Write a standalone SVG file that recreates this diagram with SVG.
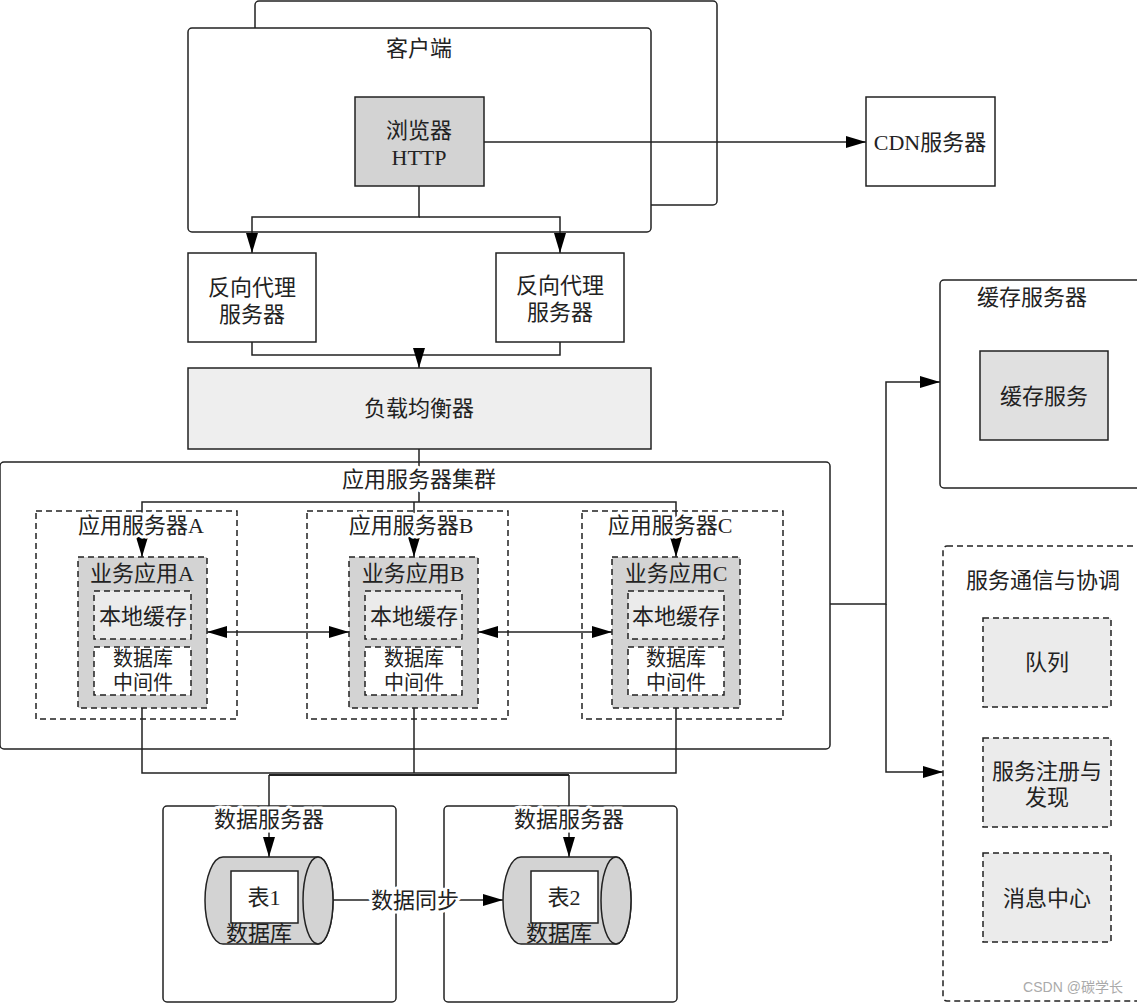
<svg xmlns="http://www.w3.org/2000/svg" width="1137" height="1004" viewBox="0 0 1137 1004">
<defs>
<marker id="ah" markerWidth="20" markerHeight="12" refX="20" refY="6" orient="auto" markerUnits="userSpaceOnUse"><path d="M0,0 L20,6 L0,12 Z" fill="#000"/></marker>
<marker id="as" markerWidth="20" markerHeight="12" refX="0" refY="6" orient="auto" markerUnits="userSpaceOnUse"><path d="M20,0 L0,6 L20,12 Z" fill="#000"/></marker>
<style>
text{font-family:"Liberation Serif","Noto Sans CJK SC",serif;font-size:22px;fill:#222;text-anchor:middle;dominant-baseline:central}
.sm{font-size:20px}
.halo{stroke:#fff;stroke-width:6;paint-order:stroke;stroke-linejoin:round}
.box{fill:#fff;stroke:#222;stroke-width:1.5}
.frame{fill:none;stroke:#222;stroke-width:1.5}
.gray{fill:#d3d3d3;stroke:#222;stroke-width:1.5}
.light{fill:#eeeeee;stroke:#222;stroke-width:1.5}
.dash{fill:#fff;stroke:#222;stroke-width:1.5;stroke-dasharray:6,4}
.dframe{fill:none;stroke:#222;stroke-width:1.5;stroke-dasharray:6,4}
.dgray{fill:#d3d3d3;stroke:#222;stroke-width:1.5;stroke-dasharray:6,4}
.dlight{fill:#ebebeb;stroke:#222;stroke-width:1.5;stroke-dasharray:6,4}
.ln{fill:none;stroke:#222;stroke-width:1.5}
</style>
</defs>
<rect width="1137" height="1004" fill="#fff"/>

<g id="client">
<rect class="box" x="255" y="1" width="462" height="204" rx="4"/>
<rect class="box" x="188" y="28" width="463" height="204" rx="4"/>
<text x="419" y="48">客户端</text>
</g>

<g id="connectors">
<path class="ln" d="M484,142 H866" marker-end="url(#ah)"/>
<path class="ln" d="M419,186 V217 H252 V253" marker-end="url(#ah)"/>
<path class="ln" d="M419,217 H560 V253" marker-end="url(#ah)"/>
<path class="ln" d="M252,342 V355 H560 V342"/>
<path class="ln" d="M419,355 V368" marker-end="url(#ah)"/>
<path class="ln" d="M419,449 V502"/>
<path class="ln" d="M419,502 H142 V557" marker-end="url(#ah)"/>
<path class="ln" d="M414,502 V557" marker-end="url(#ah)"/>
<path class="ln" d="M419,502 H676 V557" marker-end="url(#ah)"/>
<path class="ln" d="M207,632 H349" marker-start="url(#as)" marker-end="url(#ah)"/>
<path class="ln" d="M478,632 H612" marker-start="url(#as)" marker-end="url(#ah)"/>
<path class="ln" d="M830,604 H886 V382 H940" marker-end="url(#ah)"/>
<path class="ln" d="M886,604 V772 H943" marker-end="url(#ah)"/>
<path class="ln" d="M142,695 V773 H676 V695"/>
<path class="ln" d="M414,695 V773"/>
<path class="ln" d="M269,775 H569" style="stroke-width:2"/>
<path class="ln" d="M269,775 V857" marker-end="url(#ah)"/>
<path class="ln" d="M569,775 V857" marker-end="url(#ah)"/>
<path class="ln" d="M333,900 H503" marker-end="url(#ah)"/>
</g>

<g id="browser">
<rect class="gray" x="355" y="97" width="129" height="89"/>
<text x="419" y="130">浏览器</text>
<text x="419" y="157">HTTP</text>
</g>
<g id="cdn">
<rect class="box" x="866" y="97" width="129" height="89"/>
<text x="930" y="142">CDN服务器</text>
</g>
<g id="proxy1">
<rect class="box" x="188" y="253" width="128" height="89"/>
<text x="252" y="287">反向代理</text>
<text x="252" y="314">服务器</text>
</g>
<g id="proxy2">
<rect class="box" x="496" y="253" width="128" height="89"/>
<text x="560" y="285">反向代理</text>
<text x="560" y="312">服务器</text>
</g>
<g id="lb">
<rect class="light" x="188" y="368" width="463" height="81"/>
<text x="419" y="408">负载均衡器</text>
</g>
<g id="cluster">
<rect class="frame" x="0" y="462" width="830" height="287" rx="4"/>
<text class="halo" x="419" y="479">应用服务器集群</text>
</g>
<g id="serverA">
<rect class="dframe" x="36" y="511" width="201" height="208"/>
<text class="halo" x="141" y="525">应用服务器A</text>
<rect class="dgray" x="78" y="557" width="129" height="151"/>
<text x="142" y="573">业务应用A</text>
<rect class="dlight" x="94" y="591" width="97" height="48"/>
<text x="143" y="616">本地缓存</text>
<rect class="dash" x="94" y="647" width="97" height="48"/>
<text class="sm" x="143" y="659">数据库</text>
<text class="sm" x="143" y="683">中间件</text>
</g>
<g id="serverB">
<rect class="dframe" x="307" y="511" width="201" height="208"/>
<text class="halo" x="411" y="525">应用服务器B</text>
<rect class="dgray" x="349" y="557" width="129" height="151"/>
<text x="413" y="573">业务应用B</text>
<rect class="dlight" x="365" y="591" width="97" height="48"/>
<text x="414" y="616">本地缓存</text>
<rect class="dash" x="365" y="647" width="97" height="48"/>
<text class="sm" x="414" y="659">数据库</text>
<text class="sm" x="414" y="683">中间件</text>
</g>
<g id="serverC">
<rect class="dframe" x="582" y="511" width="201" height="208"/>
<text class="halo" x="670" y="525">应用服务器C</text>
<rect class="dgray" x="612" y="557" width="128" height="151"/>
<text x="676" y="573">业务应用C</text>
<rect class="dlight" x="628" y="591" width="96" height="48"/>
<text x="676" y="616">本地缓存</text>
<rect class="dash" x="628" y="647" width="96" height="48"/>
<text class="sm" x="676" y="659">数据库</text>
<text class="sm" x="676" y="683">中间件</text>
</g>
<g id="cache">
<rect class="frame" x="940" y="280" width="210" height="208" rx="4"/>
<text x="1032" y="297">缓存服务器</text>
<rect class="gray" x="980" y="351" width="128" height="89" style="fill:#e0e0e0"/>
<text x="1044" y="396">缓存服务</text>
</g>
<g id="comm">
<rect class="dframe" x="943" y="546" width="210" height="455" rx="4"/>
<text x="1043" y="580">服务通信与协调</text>
<rect class="dlight" x="983" y="618" width="128" height="89"/>
<text x="1047" y="662">队列</text>
<rect class="dlight" x="983" y="738" width="128" height="89"/>
<text x="1047" y="771">服务注册与</text>
<text x="1047" y="797">发现</text>
<rect class="dlight" x="983" y="853" width="128" height="89"/>
<text x="1047" y="898">消息中心</text>
</g>
<g id="data1">
<rect class="frame" x="163" y="806" width="233" height="196" rx="4"/>
<text class="halo" x="269" y="819">数据服务器</text>
<path class="gray" d="M223,857 L318,857 A15,43.5 0 0 1 318,944 L223,944 A18,43.5 0 0 1 223,857 Z"/>
<ellipse class="gray" cx="318" cy="900.5" rx="15" ry="43.5"/>
<rect class="box" x="231" y="871" width="67" height="52"/>
<text x="264" y="897">表1</text>
<text x="259" y="933">数据库</text>
</g>
<g id="data2">
<rect class="frame" x="444" y="806" width="233" height="196" rx="4"/>
<text class="halo" x="569" y="819">数据服务器</text>
<path class="gray" d="M521,857 L616,857 A15,43.5 0 0 1 616,944 L521,944 A18,43.5 0 0 1 521,857 Z"/>
<ellipse class="gray" cx="616" cy="900.5" rx="15" ry="43.5"/>
<rect class="box" x="531" y="871" width="67" height="52"/>
<text x="564" y="897">表2</text>
<text x="559" y="933">数据库</text>
</g>
<g id="sync-label">
<text class="halo" x="415" y="900">数据同步</text>
</g>
<text x="1073" y="987" style="font-family:'Liberation Sans','Noto Sans CJK SC',sans-serif;font-size:14px;fill:#aaa">CSDN @碳学长</text>
</svg>
